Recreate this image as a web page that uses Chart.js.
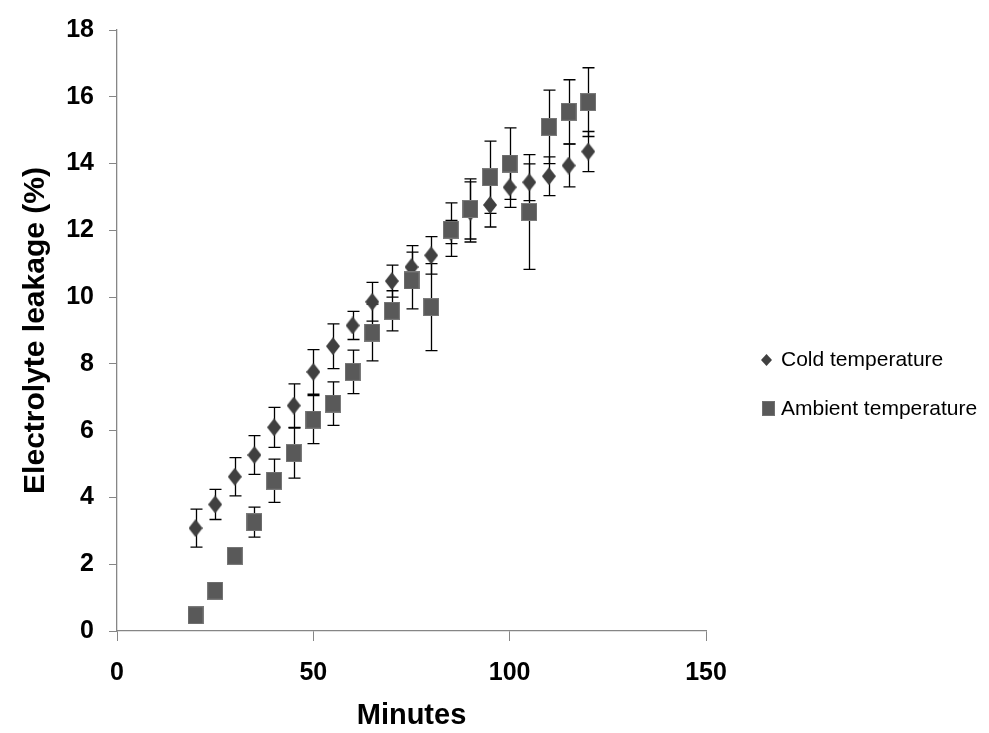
<!DOCTYPE html>
<html>
<head>
<meta charset="utf-8">
<script src="https://cdn.jsdelivr.net/npm/chart.js@4.4.1/dist/chart.umd.min.js"></script>
<style>
  html, body { margin: 0; padding: 0; background: #fff; }
  #chart { display: block; }
</style>
</head>
<body>
<canvas id="chart" width="989" height="733"></canvas>
<script>
const minutes = [20, 25, 30, 35, 40, 45, 50, 55, 60, 65, 70, 75, 80, 85, 90, 95, 100, 105, 110, 115, 120];

const coldValues = [3.08, 3.79, 4.62, 5.27, 6.1, 6.75, 7.76, 8.53, 9.15, 9.86, 10.48, 10.9, 11.25, 11.95, 12.55, 12.76, 13.29, 13.44, 13.62, 13.94, 14.36];
const coldErrors = [0.57, 0.45, 0.57, 0.58, 0.6, 0.65, 0.67, 0.67, 0.42, 0.58, 0.48, 0.64, 0.56, 0.35, 0.9, 0.66, 0.6, 0.55, 0.58, 0.64, 0.6];

const ambientValues = [0.47, 1.21, 2.25, 3.26, 4.5, 5.33, 6.33, 6.81, 7.76, 8.94, 9.59, 10.5, 9.7, 12.02, 12.64, 13.59, 14.0, 12.55, 15.1, 15.55, 15.84];
const ambientErrors = [0.15, 0.15, 0.25, 0.45, 0.65, 0.75, 0.72, 0.65, 0.65, 0.85, 0.6, 0.85, 1.3, 0.8, 0.9, 1.08, 1.07, 1.72, 1.1, 0.96, 1.03];

const seriesNames = ['Cold temperature', 'Ambient temperature'];
const xTicks = [0, 50, 100, 150];
const yTicks = [0, 2, 4, 6, 8, 10, 12, 14, 16, 18];

const FONT = "'Liberation Sans', Arial, sans-serif";

// marker images (diamond is taller than wide, square slightly tall)
function makeDiamond(w, h, color) {
    const c = document.createElement('canvas');
    c.width = w; c.height = h;
    const g = c.getContext('2d');
    g.fillStyle = color;
    g.beginPath();
    g.moveTo(w / 2, 0);
    g.lineTo(w, h / 2);
    g.lineTo(w / 2, h);
    g.lineTo(0, h / 2);
    g.closePath();
    g.fill();
    return c;
}

function makeSquare(w, h, color, edge) {
    const c = document.createElement('canvas');
    c.width = w; c.height = h;
    const g = c.getContext('2d');
    g.fillStyle = edge;
    g.fillRect(0, 0, w, h);
    g.fillStyle = color;
    g.fillRect(1, 1, w - 2, h - 2);
    return c;
}

const diamondImg = makeDiamond(14, 18, '#404040');
const squareImg = makeSquare(16, 18, '#595959', '#7a7a7a');
const diamondSmall = makeDiamond(11, 12, '#404040');
const squareSmall = makeSquare(13, 15, '#595959', '#707070');

function toPoints(values) {
    return minutes.map((m, i) => ({ x: m, y: values[i] }));
}

const errorBars = {
    id: 'errorBars',
    beforeDatasetsDraw(chart) {
        const ctx = chart.ctx;
        const xs = chart.scales.x;
        const ys = chart.scales.y;
        const sets = [[coldValues, coldErrors], [ambientValues, ambientErrors]];
        ctx.save();
        ctx.strokeStyle = '#000';
        ctx.lineWidth = 1.3;
        sets.forEach(([vals, errs]) => {
            minutes.forEach((m, i) => {
                const px = Math.round(xs.getPixelForValue(m)) + 0.5;
                const top = ys.getPixelForValue(vals[i] + errs[i]);
                const bot = ys.getPixelForValue(vals[i] - errs[i]);
                ctx.beginPath();
                ctx.moveTo(px, top);
                ctx.lineTo(px, bot);
                ctx.moveTo(px - 6, top);
                ctx.lineTo(px + 6, top);
                ctx.moveTo(px - 6, bot);
                ctx.lineTo(px + 6, bot);
                ctx.stroke();
            });
        });
        ctx.restore();
    }
};

const sideLegend = {
    id: 'sideLegend',
    afterDraw(chart) {
        const ctx = chart.ctx;
        ctx.save();
        ctx.font = '21px ' + FONT;
        ctx.fillStyle = '#000';
        ctx.textBaseline = 'middle';
        ctx.drawImage(diamondSmall, 761, 354);
        ctx.fillText(seriesNames[0], 781, 360);
        ctx.drawImage(squareSmall, 762, 401);
        ctx.fillText(seriesNames[1], 781, 409);
        ctx.restore();
    }
};

new Chart(document.getElementById('chart'), {
    type: 'scatter',
    data: {
        datasets: [{
            label: seriesNames[0],
            data: toPoints(coldValues),
            pointStyle: diamondImg,
            backgroundColor: '#404040',
            order: 1
        }, {
            label: seriesNames[1],
            data: toPoints(ambientValues),
            pointStyle: squareImg,
            backgroundColor: '#595959',
            order: 0
        }]
    },
    options: {
        responsive: false,
        animation: false,
        events: [],
        layout: { padding: { top: 23, right: 283, left: 0, bottom: 0 } },
        plugins: {
            legend: { display: false },
            tooltip: { enabled: false }
        },
        scales: {
            x: {
                type: 'linear',
                min: 0,
                max: 150,
                afterBuildTicks: (s) => { s.ticks = xTicks.map(v => ({ value: v })); },
                afterFit: (s) => { s.height = 102; },
                grid: { drawOnChartArea: false, tickLength: 10, color: '#868686' },
                border: { color: '#868686', width: 1.3 },
                ticks: { color: '#000', padding: 17, font: { family: FONT, size: 25, weight: 'bold' } },
                title: {
                    display: true,
                    text: 'Minutes',
                    color: '#000',
                    padding: { top: 0, bottom: 0 },
                    font: { family: FONT, size: 29, weight: 'bold' }
                }
            },
            y: {
                min: 0,
                max: 18,
                afterBuildTicks: (s) => { s.ticks = yTicks.map(v => ({ value: v })); },
                afterFit: (s) => { s.width = 117; },
                grid: { drawOnChartArea: false, tickLength: 8, color: '#868686' },
                border: { color: '#868686', width: 1.3 },
                ticks: { color: '#000', padding: 15, font: { family: FONT, size: 25, weight: 'bold' } },
                title: {
                    display: true,
                    text: 'Electrolyte leakage (%)',
                    color: '#000',
                    padding: { top: 18, bottom: 0 },
                    font: { family: FONT, size: 30, weight: 'bold' }
                }
            }
        }
    },
    plugins: [errorBars, sideLegend]
});
</script>
</body>
</html>
